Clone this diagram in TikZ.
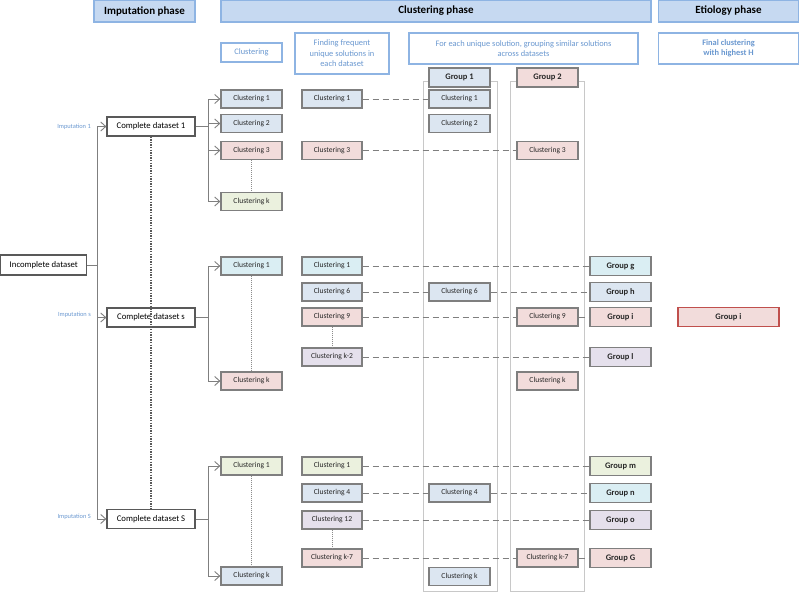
\documentclass[tikz,border=0pt]{standalone}
\usepackage{fontspec}
\setmainfont{Carlito}
\usetikzlibrary{arrows.meta}
\definecolor{hdrfill}{HTML}{C6D9F1}
\definecolor{hdrline}{HTML}{8EB4E3}
\definecolor{subtext}{HTML}{6A98D0}
\definecolor{boxline}{HTML}{7F7F7F}
\definecolor{dkline}{HTML}{595959}
\definecolor{cblue}{HTML}{DCE6F1}
\definecolor{cpink}{HTML}{F2DCDB}
\definecolor{cgreen}{HTML}{EBF1DE}
\definecolor{ccyan}{HTML}{DAEEF3}
\definecolor{clav}{HTML}{E5E0EC}
\definecolor{contline}{HTML}{C8C8C8}
\definecolor{redline}{HTML}{C0504D}
\tikzset{
  hdr/.style={draw=hdrline, fill=hdrfill, line width=1.4pt, font=\fontsize{11}{12}\selectfont\bfseries, text=black, inner sep=0pt, minimum height=22},
  sub/.style={draw=hdrline, fill=white, line width=1.2pt, font=\fontsize{8.4}{10.5}\selectfont, text=subtext, align=center, inner sep=0pt},
  cbox/.style={draw=boxline, line width=1.3pt, font=\fontsize{7.6}{8}\selectfont, text=black!85, inner sep=0pt, minimum width=60, minimum height=18},
  gbox/.style={cbox, font=\fontsize{8.5}{9}\selectfont\bfseries, minimum height=19},
  dbox/.style={draw=dkline, fill=white, line width=1.2pt, font=\fontsize{8.7}{10}\selectfont, text=black, inner sep=0pt, minimum height=19},
  implbl/.style={font=\fontsize{6.4}{7}\selectfont, text=subtext, inner sep=0pt, anchor=east},
  ln/.style={draw=boxline, line width=0.9pt},
  arr/.style={ln, -{Straight Barb[length=5pt,width=9pt,line width=0.9pt]}},
  dsh/.style={draw=boxline, line width=0.8pt, dash pattern=on 6pt off 4pt},
  dotk/.style={draw=dkline, line width=1.3pt, dash pattern=on 1.3pt off 1.3pt},
  dotl/.style={draw=black!45, line width=0.7pt, dash pattern=on 1pt off 1pt},
  cont/.style={draw=contline, line width=0.8pt},
}
\begin{document}
\begin{tikzpicture}[x=1pt,y=-1pt]
\useasboundingbox (0,0) rectangle (800,592);
% phase headers
\node[hdr, minimum width=101] (hI) at (144.5,11) {Imputation phase};
\node[hdr, minimum width=430] (hC) at (436,11) {Clustering phase};
\node[hdr, minimum width=140] (hE) at (728.5,11) {Etiology phase};
% sub headers
\node[sub, minimum width=61, minimum height=19] (sC) at (251.5,52.5) {Clustering};
\node[sub, minimum width=94, minimum height=41] (sF) at (342,53.5) {Finding frequent\\unique solutions in\\each dataset};
\node[sub, minimum width=229, minimum height=31] (sG) at (523.5,48.5) {For each unique solution, grouping similar solutions\\across datasets};
\node[sub, minimum width=140, minimum height=31, font=\fontsize{8.4}{10.5}\selectfont\bfseries] (sE) at (728.5,48.5) {Final clustering\\with highest H};
% group containers
\draw[cont] (423,81) rectangle (497,591);
\draw[cont] (510,81) rectangle (584,591);
\node[gbox, fill=cblue, minimum width=61] (G1) at (459.5,77.5) {Group 1};
\node[gbox, fill=cpink, minimum width=61] (G2) at (547.5,77.5) {Group 2};
% left part
\node[dbox, minimum width=86, minimum height=20] (inc) at (43.8,265) {Incomplete dataset};
\node[dbox, minimum width=88] (cd1) at (151,126.5) {Complete dataset 1};
\node[dbox, minimum width=88] (cds) at (151,317.5) {Complete dataset s};
\node[dbox, minimum width=88] (cdS) at (151,519) {Complete dataset S};
\node[implbl] (i1) at (91,127) {Imputation 1};
\node[implbl] (is) at (91,315) {Imputation s};
\node[implbl] (iS) at (91,517) {Imputation S};
\coordinate (sp) at (97,0);
\draw[ln] (sp |- cd1.west) -- (sp |- cdS.west);
\draw[ln] (inc.east) -- (sp |- inc.east);
\draw[arr] (sp |- cd1.west) -- (cd1.west);
\draw[arr] (sp |- cds.west) -- (cds.west);
\draw[arr] (sp |- cdS.west) -- (cdS.west);
\draw[dotk] (cd1.south) -- (cdS.north);
% column 1
\node[cbox, fill=cblue, minimum width=61] (c11) at (251.5,99) {Clustering 1};
\node[cbox, fill=cblue, minimum width=61] (c12) at (251.5,123.5) {Clustering 2};
\node[cbox, fill=cpink, minimum width=61] (c13) at (251.5,150.5) {Clustering 3};
\node[cbox, fill=cgreen, minimum width=61] (c1k) at (251.5,201.5) {Clustering k};
\node[cbox, fill=ccyan, minimum width=61] (cs1) at (251.5,266) {Clustering 1};
\node[cbox, fill=cpink, minimum width=61] (csk) at (251.5,381) {Clustering k};
\node[cbox, fill=cgreen, minimum width=61] (cS1) at (251.5,466) {Clustering 1};
\node[cbox, fill=cblue, minimum width=61] (cSk) at (251.5,576) {Clustering k};
\coordinate (b) at (208,0);
\draw[ln] (cd1.east) -- (b |- cd1.east);
\draw[ln] (b |- c11.west) -- (b |- c1k.west);
\foreach \n in {c11,c12,c13,c1k} \draw[arr] (b |- \n.west) -- (\n.west);
\draw[ln] (cds.east) -- (b |- cds.east);
\draw[ln] (b |- cs1.west) -- (b |- csk.west);
\foreach \n in {cs1,csk} \draw[arr] (b |- \n.west) -- (\n.west);
\draw[ln] (cdS.east) -- (b |- cdS.east);
\draw[ln] (b |- cS1.west) -- (b |- cSk.west);
\foreach \n in {cS1,cSk} \draw[arr] (b |- \n.west) -- (\n.west);
\draw[dotl] (c13.south) -- (c1k.north);
\draw[dotl] (cs1.south) -- (csk.north);
\draw[dotl] (cS1.south) -- (cSk.north);
% column 2
\node[cbox, fill=cblue] (f11) at (332,99) {Clustering 1};
\node[cbox, fill=cpink] (f13) at (332,150.5) {Clustering 3};
\node[cbox, fill=ccyan] (fs1) at (332,266) {Clustering 1};
\node[cbox, fill=cblue] (fs6) at (332,292) {Clustering 6};
\node[cbox, fill=cpink] (fs9) at (332,317) {Clustering 9};
\node[cbox, fill=clav] (fsk2) at (332,357) {Clustering k-2};
\node[cbox, fill=cgreen] (fS1) at (332,466) {Clustering 1};
\node[cbox, fill=cblue] (fS4) at (332,493) {Clustering 4};
\node[cbox, fill=clav] (fS12) at (332,520) {Clustering 12};
\node[cbox, fill=cpink] (fSk7) at (332,558) {Clustering k-7};
\draw[dotl] (fs9.south) -- (fsk2.north);
\draw[dotl] (fS12.south) -- (fSk7.north);
% column 3 (group 1)
\node[cbox, fill=cblue, minimum width=61] (g1c1) at (459.5,99) {Clustering 1};
\node[cbox, fill=cblue, minimum width=61] (g1c2) at (459.5,123.5) {Clustering 2};
\node[cbox, fill=cblue, minimum width=61] (g1c6) at (459.5,292) {Clustering 6};
\node[cbox, fill=cblue, minimum width=61] (g1c4) at (459.5,493) {Clustering 4};
\node[cbox, fill=cblue, minimum width=61] (g1ck) at (459.5,576.5) {Clustering k};
% column 4 (group 2)
\node[cbox, fill=cpink, minimum width=61] (g2c3) at (547.5,150.5) {Clustering 3};
\node[cbox, fill=cpink, minimum width=61] (g2c9) at (547.5,317) {Clustering 9};
\node[cbox, fill=cpink, minimum width=61] (g2ck) at (547.5,381) {Clustering k};
\node[cbox, fill=cpink, minimum width=61] (g2ck7) at (547.5,558) {Clustering k-7};
% column 5 groups
\node[gbox, fill=ccyan, minimum width=61] (Gg) at (620.5,266) {Group g};
\node[gbox, fill=cblue, minimum width=61] (Gh) at (620.5,292) {Group h};
\node[gbox, fill=cpink, minimum width=61] (Gi) at (620.5,317) {Group i};
\node[gbox, fill=clav, minimum width=61] (Gl) at (620.5,357) {Group l};
\node[gbox, fill=cgreen, minimum width=61] (Gm) at (620.5,466) {Group m};
\node[gbox, fill=ccyan, minimum width=61] (Gn) at (620.5,493) {Group n};
\node[gbox, fill=clav, minimum width=61] (Go) at (620.5,520) {Group o};
\node[gbox, fill=cpink, minimum width=61] (GG) at (620.5,558) {Group G};
% final
\node[gbox, draw=redline, fill=cpink, minimum width=101] (Fi) at (728.5,317) {Group i};
% dashed links
\draw[dsh] (f11.east) -- (g1c1.west);
\draw[dsh] (f13.east) -- (g2c3.west);
\draw[dsh] (fs1.east) -- (Gg.west);
\draw[dsh] (fs6.east) -- (g1c6.west);
\draw[dsh] (g1c6.east) -- (Gh.west);
\draw[dsh] (fs9.east) -- (g2c9.west);
\draw[dsh] (g2c9.east) -- (Gi.west);
\draw[dsh] (fsk2.east) -- (Gl.west);
\draw[dsh] (fS1.east) -- (Gm.west);
\draw[dsh] (fS4.east) -- (g1c4.west);
\draw[dsh] (g1c4.east) -- (Gn.west);
\draw[dsh] (fS12.east) -- (Go.west);
\draw[dsh] (fSk7.east) -- (g2ck7.west);
\draw[dsh] (g2ck7.east) -- (GG.west);
\end{tikzpicture}
\end{document}
